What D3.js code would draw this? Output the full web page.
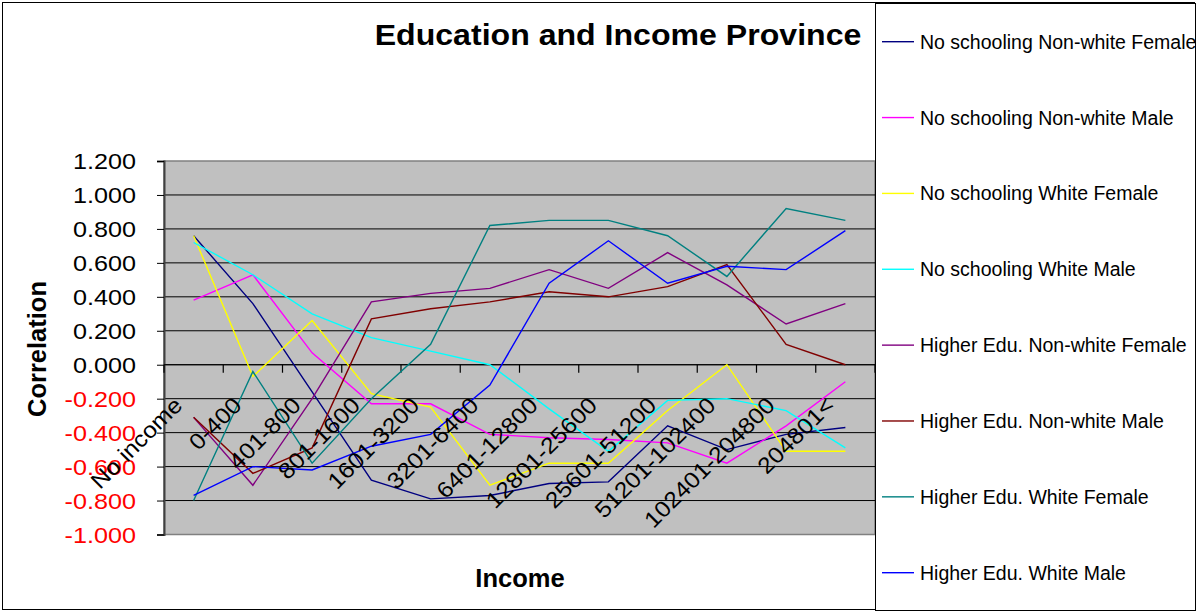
<!DOCTYPE html>
<html>
<head>
<meta charset="utf-8">
<script src="https://cdn.jsdelivr.net/npm/d3@7"></script>
<style>
  html, body { margin: 0; padding: 0; background: #fff; }
  svg { display: block; font-family: "Liberation Sans", Arial, sans-serif; }
</style>
</head>
<body>
<svg id="chart" width="1198" height="612"></svg>
<script>
// Income brackets (category axis)
const categories = ["No income", "0-400", "401-800", "801-1600", "1601-3200", "3201-6400",
  "6401-12800", "12801-25600", "25601-51200", "51201-102400", "102401-204800", "204801<"];

// Correlation per bracket, one array per group
const noSchoolNonWhiteFemale = [0.76, 0.36, -0.16, -0.68, -0.79, -0.77, -0.70, -0.69, -0.36, -0.50, -0.41, -0.37];
const noSchoolNonWhiteMale   = [0.38, 0.53, 0.07, -0.23, -0.23, -0.41, -0.43, -0.44, -0.46, -0.58, -0.36, -0.10];
const noSchoolWhiteFemale    = [0.76, -0.07, 0.26, -0.17, -0.25, -0.71, -0.58, -0.58, -0.27, 0.00, -0.51, -0.51];
const noSchoolWhiteMale      = [0.72, 0.53, 0.30, 0.16, 0.08, 0.00, -0.26, -0.51, -0.21, -0.20, -0.27, -0.49];
const higherNonWhiteFemale   = [-0.31, -0.71, -0.20, 0.37, 0.42, 0.45, 0.56, 0.45, 0.66, 0.47, 0.24, 0.36];
const higherNonWhiteMale     = [-0.31, -0.64, -0.49, 0.27, 0.33, 0.37, 0.43, 0.40, 0.46, 0.59, 0.12, 0.00];
const higherWhiteFemale      = [-0.80, -0.04, -0.58, -0.20, 0.12, 0.82, 0.85, 0.85, 0.76, 0.52, 0.92, 0.85];
const higherWhiteMale        = [-0.77, -0.60, -0.62, -0.48, -0.41, -0.12, 0.48, 0.73, 0.48, 0.58, 0.56, 0.79];

const seriesNames = ["No schooling Non-white Female", "No schooling Non-white Male",
  "No schooling White Female", "No schooling White Male", "Higher Edu. Non-white Female",
  "Higher Edu. Non-white Male", "Higher Edu. White Female", "Higher Edu. White Male"];
const seriesValues = [noSchoolNonWhiteFemale, noSchoolNonWhiteMale, noSchoolWhiteFemale,
  noSchoolWhiteMale, higherNonWhiteFemale, higherNonWhiteMale, higherWhiteFemale, higherWhiteMale];
const seriesColors = ["#000080", "#FF00FF", "#FFFF00", "#00FFFF", "#800080", "#800000", "#008080", "#0000FF"];

const yTicks = [1.2, 1.0, 0.8, 0.6, 0.4, 0.2, 0.0, -0.2, -0.4, -0.6, -0.8, -1.0];

const svg = d3.select("#chart");
const plot = { left: 164, right: 875, top: 161, bottom: 534.5 };

const x = d3.scaleBand().domain(categories).range([plot.left, plot.right]);
const y = d3.scaleLinear().domain([-1, 1.2]).range([plot.bottom, plot.top]);

// Outer chart frame
svg.append("rect").attr("x", 2.5).attr("y", 2.5).attr("width", 1192).attr("height", 607)
  .attr("fill", "#fff").attr("stroke", "#000").attr("stroke-width", 1);

// Plot area
svg.append("rect").attr("x", plot.left).attr("y", plot.top)
  .attr("width", plot.right - plot.left).attr("height", plot.bottom - plot.top)
  .attr("fill", "#C0C0C0").attr("stroke", "#808080").attr("stroke-width", 1.5);

// Horizontal gridlines
svg.append("g").selectAll("line").data(yTicks.filter(d => d > -1 && d < 1.2)).join("line")
  .attr("x1", plot.left).attr("x2", plot.right)
  .attr("y1", d => y(d)).attr("y2", d => y(d))
  .attr("stroke", "#000").attr("stroke-width", 1);

// Value axis
const yAxis = d3.axisLeft(y).tickValues(yTicks).tickSize(7).tickFormat("");
const gy = svg.append("g").attr("transform", `translate(${plot.left},0)`).call(yAxis);
gy.select(".domain").attr("stroke", "#404040").attr("stroke-width", 2);
gy.selectAll(".tick line").attr("stroke", "#000");

svg.append("g").selectAll("text").data(yTicks).join("text")
  .attr("transform", d => `translate(136,${y(d) + 8}) scale(1.12,1)`)
  .attr("text-anchor", "end")
  .attr("font-size", 22.5)
  .attr("fill", d => d < 0 ? "#FF0000" : "#000")
  .text(d => d3.format(".3f")(d).replace("−", "-"));

// Category axis crossing at zero
const boundaries = d3.range(categories.length + 1).map(i => plot.left + i * x.step());
const gx = svg.append("g");
gx.append("line").attr("x1", plot.left).attr("x2", plot.right)
  .attr("y1", y(0)).attr("y2", y(0)).attr("stroke", "#000").attr("stroke-width", 1.2);
gx.selectAll("line.tk").data(boundaries).join("line").attr("class", "tk")
  .attr("x1", d => d).attr("x2", d => d)
  .attr("y1", y(0)).attr("y2", y(0) + 8)
  .attr("stroke", "#000").attr("stroke-width", 1.2);

// Series lines
const line = d3.line()
  .x((d, i) => x(categories[i]) + x.bandwidth() / 2)
  .y(d => y(d));
svg.append("g").selectAll("path").data(seriesValues).join("path")
  .attr("d", d => line(d))
  .attr("fill", "none")
  .attr("stroke", (d, i) => seriesColors[i])
  .attr("stroke-width", 1.4);

// Rotated category labels
svg.append("g").selectAll("text").data(categories).join("text")
  .attr("transform", d => `translate(${x(d) + x.bandwidth() / 2 - 10},${y(0) + 42}) rotate(-45) scale(1.1,1)`)
  .attr("text-anchor", "end")
  .attr("font-size", 22.5)
  .attr("fill", "#000")
  .text(d => d);

// Titles
svg.append("text").attr("transform", "translate(618,45) scale(1.07,1)")
  .attr("text-anchor", "middle").attr("font-size", 30).attr("font-weight", "bold")
  .text("Education and Income Province");
svg.append("text").attr("transform", "translate(520,587)")
  .attr("text-anchor", "middle").attr("font-size", 25.5).attr("font-weight", "bold")
  .text("Income");
svg.append("text").attr("transform", "translate(46,349) rotate(-90)")
  .attr("text-anchor", "middle").attr("font-size", 25.5).attr("font-weight", "bold")
  .text("Correlation");

// Legend
const legend = svg.append("g");
legend.append("rect").attr("x", 875.5).attr("y", 3.5).attr("width", 320).attr("height", 607)
  .attr("fill", "#fff").attr("stroke", "#000").attr("stroke-width", 1);
const legendY = d3.scaleLinear().domain([0, 7]).range([41.7, 572.7]);
const items = legend.selectAll("g").data(seriesNames).join("g")
  .attr("transform", (d, i) => `translate(0,${legendY(i)})`);
items.append("line").attr("x1", 882).attr("x2", 914).attr("y1", 0).attr("y2", 0)
  .attr("stroke", (d, i) => seriesColors[i]).attr("stroke-width", 1.4);
items.append("text").attr("x", 920).attr("y", 7)
  .attr("font-size", 19.5).attr("fill", "#000").text(d => d);
</script>
</body>
</html>
